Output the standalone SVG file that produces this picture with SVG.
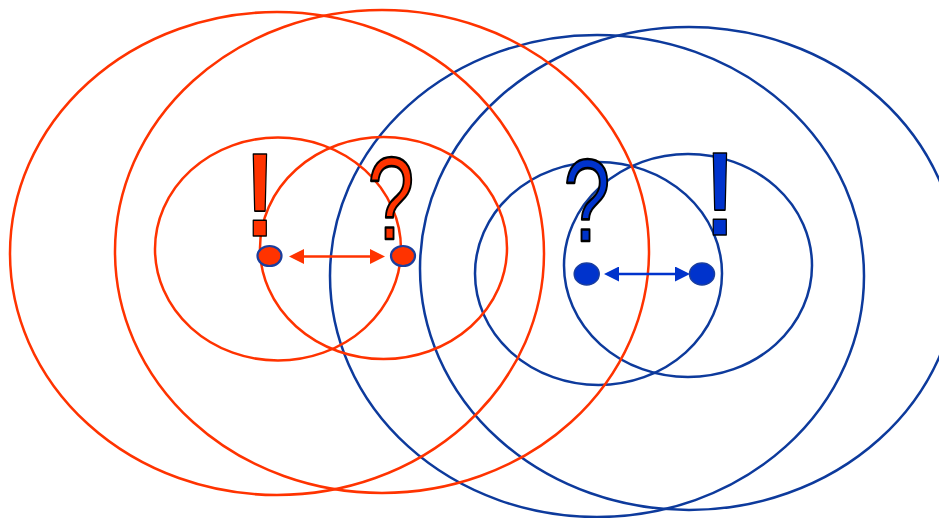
<svg xmlns="http://www.w3.org/2000/svg" width="939" height="518" viewBox="0 0 939 518">
  <style>
    .ring { fill: none; stroke-width: 2.5; }
    .red { stroke: #FF3300; }
    .blue { stroke: #0D3A9C; }
    .glyph { font-family: "Liberation Sans", Arial, sans-serif; text-anchor: middle; stroke: #000; stroke-width: 1.6; stroke-linejoin: round; }
    .bang { font-weight: bold; }
    .quest { font-weight: bold; }
    .gred { fill: #FF3300; }
    .gblue { fill: #0033CC; }
    .dotred { fill: #FF3300; stroke: #1A3E9E; stroke-width: 2.2; }
    .dotblue { fill: #0033CC; stroke: #1A3E9E; stroke-width: 1.5; }
    .conn { stroke-width: 2.5; fill: none; }
  </style>
  <defs>
    <marker id="headRed" viewBox="0 0 15 15" refX="10" refY="7.5" markerWidth="15" markerHeight="15" markerUnits="userSpaceOnUse" orient="auto-start-reverse">
      <path d="M0,0 L15,7.5 L0,15 z" fill="#FF3300"/>
    </marker>
    <marker id="headBlue" viewBox="0 0 15 15" refX="10" refY="7.5" markerWidth="15" markerHeight="15" markerUnits="userSpaceOnUse" orient="auto-start-reverse">
      <path d="M0,0 L15,7.5 L0,15 z" fill="#0033CC"/>
    </marker>
  </defs>
  <rect width="939" height="518" fill="#fff"/>
  <g id="rings">
    <ellipse class="ring blue" cx="597" cy="276" rx="267" ry="241"/>
    <ellipse class="ring blue" cx="689" cy="268.5" rx="269" ry="241.5"/>
    <ellipse class="ring blue" cx="598.5" cy="273.5" rx="123.5" ry="111.5"/>
    <ellipse class="ring blue" cx="688" cy="265.5" rx="124" ry="111.5"/>
    <ellipse class="ring red" cx="277" cy="253.5" rx="267" ry="241.5"/>
    <ellipse class="ring red" cx="382" cy="251.5" rx="267" ry="241.5"/>
    <ellipse class="ring red" cx="278" cy="249" rx="123" ry="111.5"/>
    <ellipse class="ring red" cx="383.5" cy="248" rx="123.5" ry="111"/>
  </g>
  <g id="connectors">
    <line class="conn" x1="294" y1="256.5" x2="380" y2="256.5" stroke="#FF3300" marker-start="url(#headRed)" marker-end="url(#headRed)"/>
    <line class="conn" x1="609" y1="274" x2="685" y2="274" stroke="#0033CC" marker-start="url(#headBlue)" marker-end="url(#headBlue)"/>
  </g>
  <g id="red-speaker">
    <text class="glyph bang gred" transform="translate(260,236) scale(0.78,1)" font-size="119">!</text>
    <ellipse class="dotred" cx="269.5" cy="256" rx="12" ry="10"/>
  </g>
  <g id="red-listener">
    <text class="glyph quest gred" transform="translate(391,239) scale(0.72,1)" font-size="117" style="font-weight:normal;stroke-width:2.6">?</text>
    <ellipse class="dotred" cx="403" cy="256" rx="12" ry="10"/>
  </g>
  <g id="blue-listener">
    <text class="glyph quest gblue" transform="translate(587,241) scale(0.72,1)" font-size="117" style="font-weight:normal;stroke-width:2.6">?</text>
    <ellipse class="dotblue" cx="586.7" cy="274" rx="12.5" ry="11"/>
  </g>
  <g id="blue-speaker">
    <text class="glyph bang gblue" transform="translate(720,235) scale(0.78,1)" font-size="119">!</text>
    <ellipse class="dotblue" cx="702" cy="274" rx="12.5" ry="11"/>
  </g>
</svg>
